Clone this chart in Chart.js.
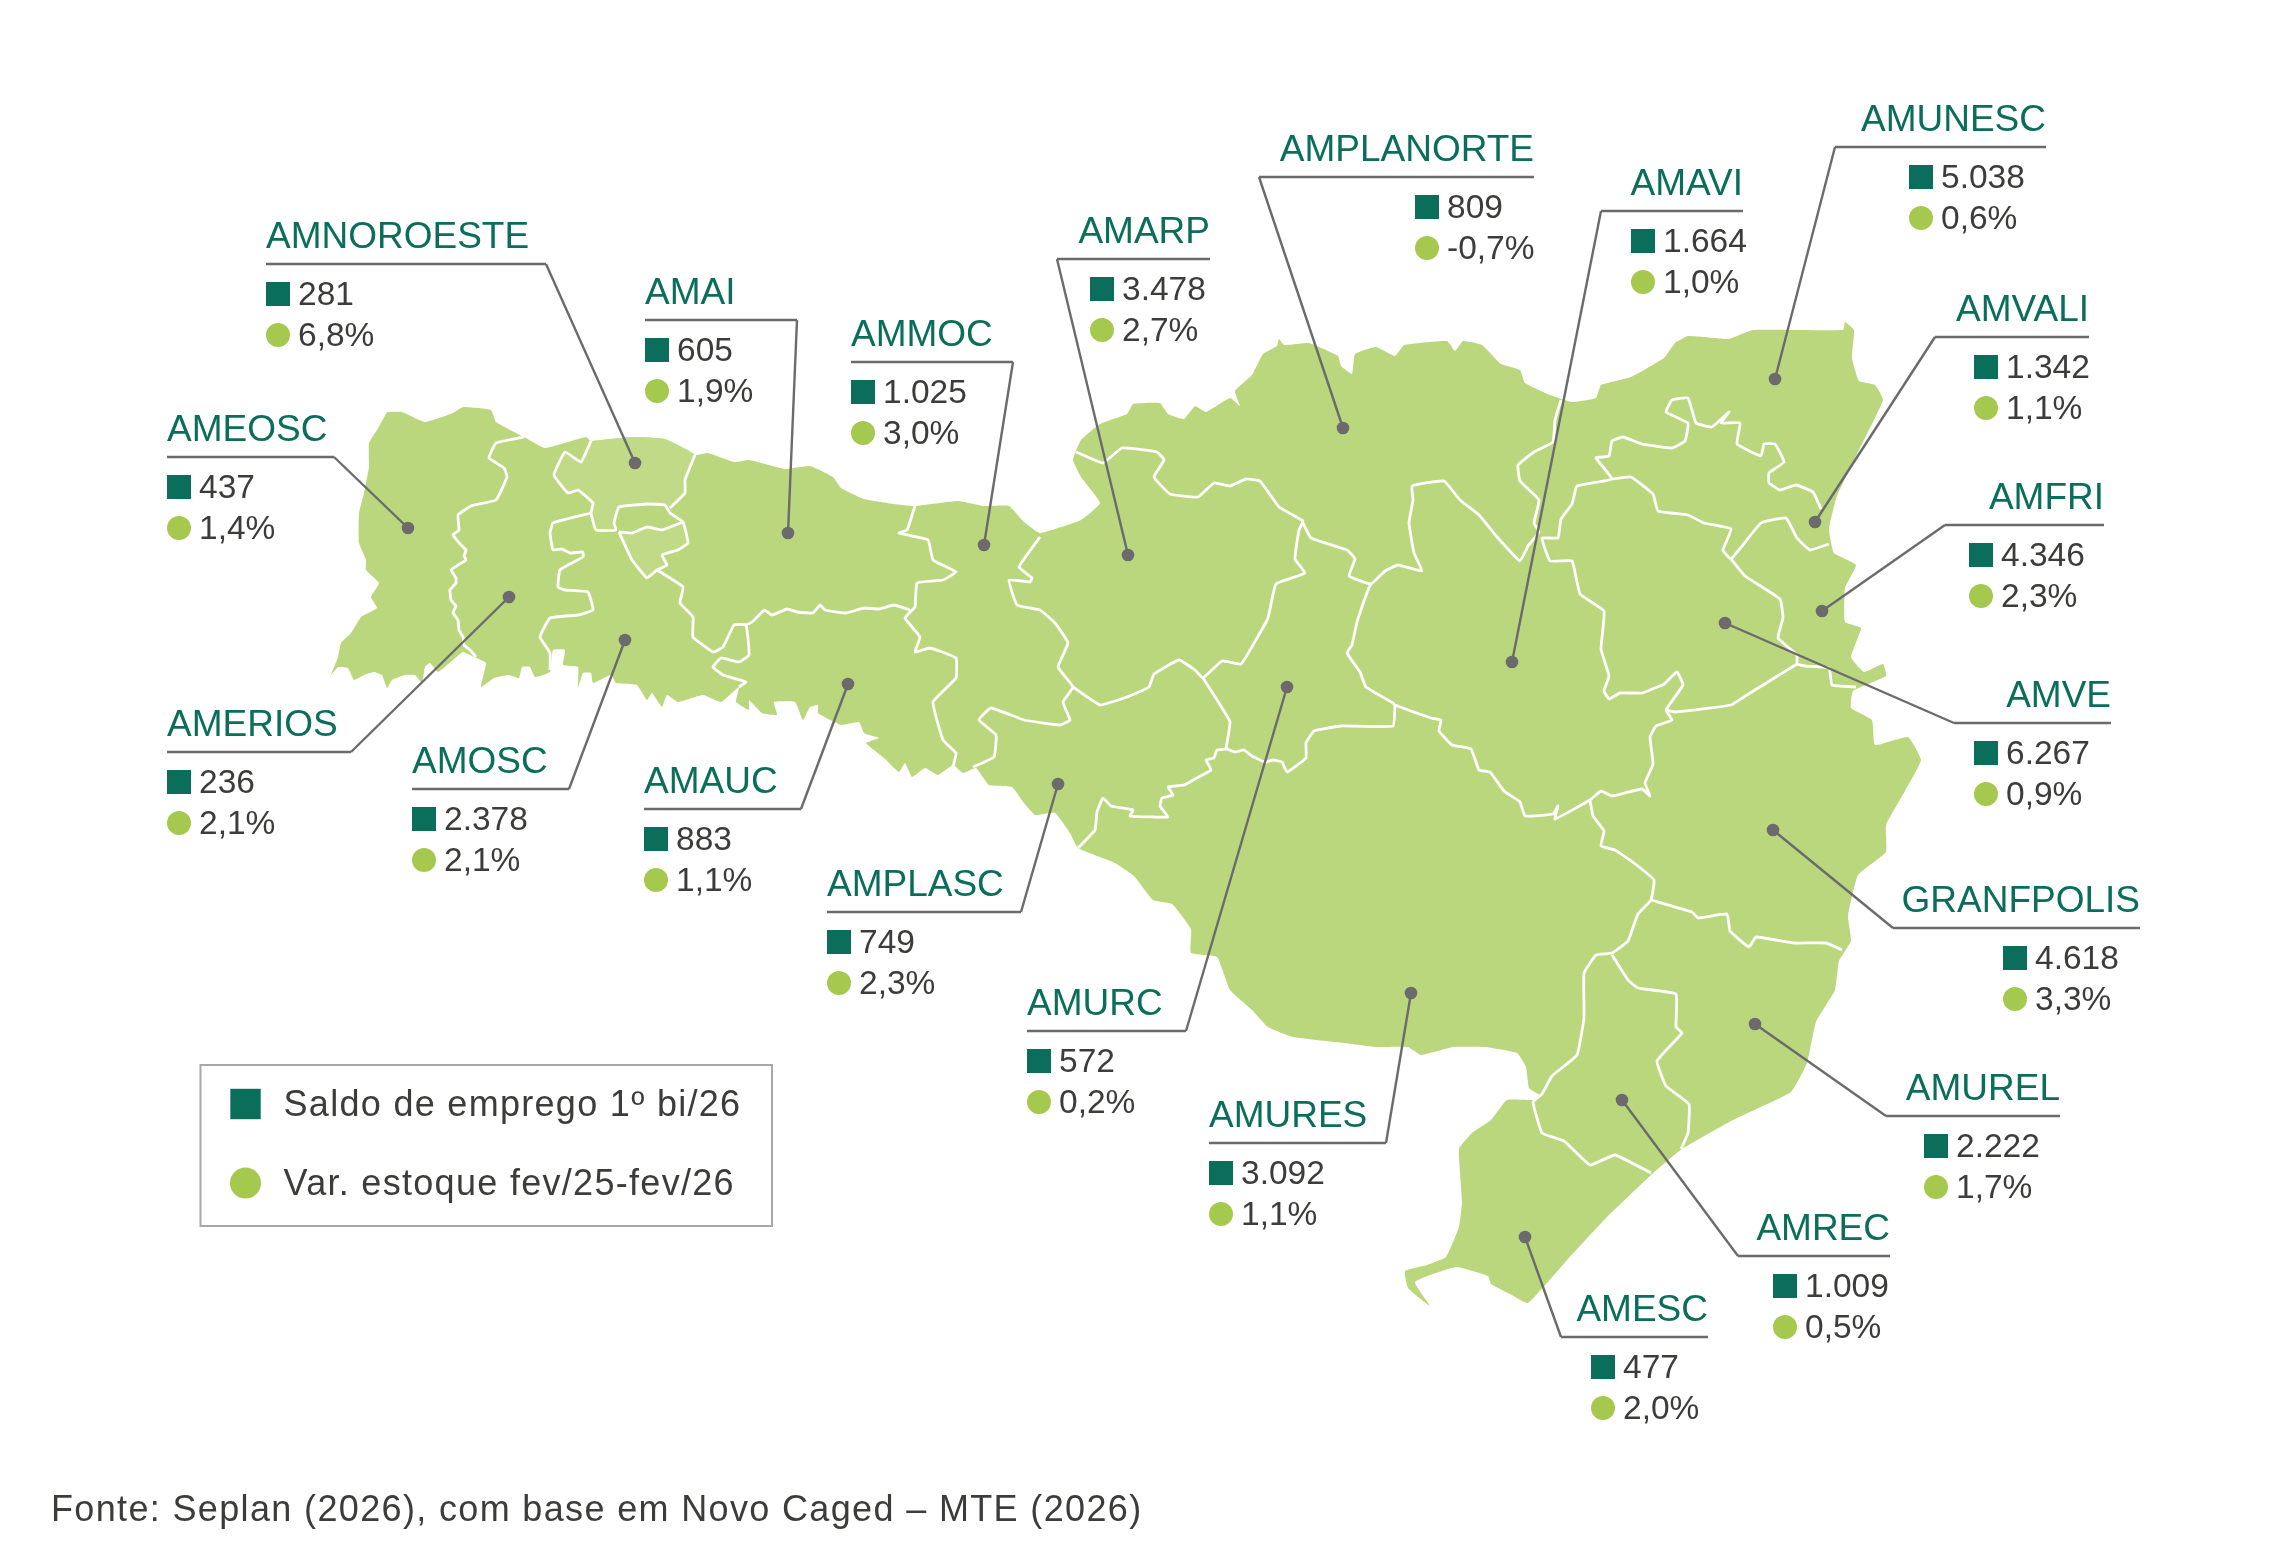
<!DOCTYPE html>
<html lang="pt-BR"><head><meta charset="utf-8">
<style>html,body{margin:0;padding:0;background:#fff}canvas{display:block}</style>
<script src="https://cdn.jsdelivr.net/npm/chart.js@4/dist/chart.umd.min.js"></script>
</head><body><canvas id="c" width="2280" height="1568"></canvas>
<script>
const regionNames=["AMNOROESTE","AMEOSC","AMERIOS","AMOSC","AMAI","AMMOC","AMAUC","AMPLASC","AMARP","AMURC","AMURES","AMPLANORTE","AMAVI","AMUNESC","AMVALI","AMFRI","AMVE","GRANFPOLIS","AMUREL","AMREC","AMESC"];
const saldoEmprego=[281,437,236,2378,605,1025,883,749,3478,572,3092,809,1664,5038,1342,4346,6267,4618,2222,1009,477];
const varEstoque=[6.8,1.4,2.1,2.1,1.9,3.0,1.1,2.3,2.7,0.2,1.1,-0.7,1.0,0.6,1.1,2.3,0.9,3.3,1.7,0.5,2.0];
const legendLabels=["Saldo de emprego 1º bi/26","Var. estoque fev/25-fev/26"];
const sourceNote="Fonte: Seplan (2026), com base em Novo Caged – MTE (2026)";

// label layout, in the chart's 2280x1568 coordinate system
const dotX=[635,408,509,625,788,984,848,1058,1128,1287,1411,1343,1512,1775,1815,1822,1725,1773,1755,1622,1525];
const dotY=[463,528,597,640,533,545,684,784,555,687,993,428,662,379,522,611,623,830,1024,1100,1237];
const ruleY=[264,457,752,789,320,362,809,912,259,1031,1143,177,211,147,337,525,723,928,1116,1256,1337];
const ruleX0=[266,167,167,412,645,851,644,827,1057,1027,1209,1259,1601,1835,1935,1945,1954,1893,1886,1738,1561];
const ruleX1=[546,334,351,569,797,1013,801,1021,1210,1186,1386,1534,1743,2046,2089,2104,2111,2140,2060,1890,1708];
const rightLabel=[0,0,0,0,0,0,0,0,1,0,0,1,1,1,1,1,1,1,1,1,1];
const markerX=[266,167,167,412,645,851,644,827,1090,1027,1209,1415,1631,1909,1974,1969,1974,2003,1924,1773,1591];

const stateOutline=[[387,412],[402,412],[425,422],[453,413],[463,407],[491,410],[496,422],[524,437],[545,448],[586,437],[591,441],[632,437],[665,439],[695,455],[708,453],[734,462],[749,460],[785,469],[810,466],[833,477],[841,488],[864,499],[894,504],[915,506],[958,501],[984,506],[1009,506],[1024,522],[1040,533],[1081,520],[1100,503],[1081,477],[1073,460],[1081,440],[1100,424],[1127,414],[1133,404],[1160,403],[1168,414],[1184,419],[1195,406],[1206,412],[1230,398],[1240,406],[1235,391],[1252,375],[1263,354],[1277,346],[1279,339],[1284,345],[1309,343],[1338,356],[1341,366],[1352,374],[1355,354],[1376,347],[1395,356],[1404,345],[1447,341],[1455,351],[1463,341],[1482,345],[1501,364],[1520,370],[1525,383],[1550,395],[1572,402],[1596,398],[1601,385],[1631,377],[1664,358],[1675,343],[1688,336],[1715,338],[1729,339],[1753,330],[1843,330],[1845,322],[1854,330],[1852,358],[1859,381],[1875,385],[1883,400],[1859,450],[1837,496],[1829,529],[1834,553],[1856,565],[1845,588],[1845,622],[1861,628],[1851,657],[1864,672],[1883,664],[1886,676],[1853,691],[1851,708],[1872,720],[1875,745],[1908,737],[1921,760],[1905,791],[1886,825],[1886,852],[1858,875],[1848,916],[1851,941],[1839,961],[1835,990],[1816,1022],[1807,1063],[1791,1092],[1733,1120],[1682,1149],[1651,1175],[1606,1218],[1568,1259],[1528,1303],[1510,1294],[1491,1284],[1488,1276],[1456,1267],[1415,1282],[1430,1306],[1408,1288],[1405,1271],[1427,1265],[1446,1257],[1459,1227],[1462,1202],[1459,1149],[1472,1133],[1491,1120],[1507,1100],[1533,1100],[1541,1096],[1529,1088],[1526,1067],[1517,1053],[1485,1047],[1453,1047],[1421,1055],[1408,1047],[1376,1047],[1344,1043],[1293,1037],[1268,1027],[1252,1010],[1230,990],[1217,957],[1191,953],[1191,929],[1172,904],[1153,900],[1134,876],[1115,863],[1078,848],[1070,833],[1055,813],[1035,815],[1024,803],[1012,787],[989,785],[976,768],[963,773],[953,765],[938,775],[925,768],[912,777],[905,763],[899,772],[884,758],[866,743],[879,738],[864,733],[859,722],[841,725],[818,713],[818,705],[810,707],[803,720],[795,702],[774,702],[777,715],[762,713],[749,700],[749,710],[736,702],[739,687],[721,702],[703,695],[678,702],[667,695],[662,707],[652,693],[647,700],[637,685],[616,683],[611,675],[593,683],[591,673],[583,673],[578,688],[578,667],[563,665],[565,650],[553,650],[550,672],[535,677],[530,667],[522,667],[519,678],[509,675],[494,678],[481,687],[486,663],[476,658],[463,652],[453,660],[438,672],[430,663],[425,667],[422,683],[415,675],[405,675],[392,680],[387,688],[382,675],[374,672],[364,675],[354,680],[348,668],[338,667],[331,675],[338,657],[341,643],[351,633],[361,617],[377,608],[371,597],[379,583],[366,570],[366,560],[359,543],[359,513],[364,493],[369,467],[369,443],[377,430]];
const amnoroesteNorth=[[591,441],[632,437],[665,439],[695,455],[685,480],[685,493],[670,508],[665,505],[647,504],[619,507],[614,523],[616,530],[596,530],[591,513],[593,503],[578,490],[568,493],[554,475],[565,452],[581,462]];
const amnoroesteSouth=[[619,532],[632,533],[647,527],[662,530],[683,522],[688,543],[678,550],[662,555],[667,565],[657,570],[647,578],[632,560]];

const borderLines=[
 [[524,437],[496,443],[489,458],[504,468],[507,477],[496,500],[471,506],[458,515],[459,530],[453,535],[461,545],[466,550],[464,556],[466,560],[458,565],[451,570],[456,578],[456,583],[450,590],[451,600],[456,606],[453,613],[458,620],[459,630],[463,637],[464,645],[470,650],[476,657]],
 [[591,513],[553,523],[550,533],[553,550],[562,549],[570,553],[583,552],[583,557],[560,570],[558,587],[565,590],[588,592],[593,610],[578,615],[550,618],[540,637],[550,653],[550,670]],
 [[591,441],[581,462],[565,452],[554,475],[568,493],[578,490],[593,503],[591,513],[596,530],[616,530],[614,523],[619,507],[647,504],[665,505],[670,513],[683,522],[688,543],[678,550],[662,555],[667,565],[657,570],[647,578],[632,560],[619,532]],
 [[695,455],[685,480],[685,493],[670,508]],
 [[619,532],[632,533],[647,527],[662,530],[683,522]],
 [[657,570],[683,587],[680,603],[693,617],[693,637],[713,652],[723,647],[734,625],[746,625],[749,655],[739,662],[721,658],[713,667],[723,675],[746,682],[739,687]],
 [[746,625],[752,622],[762,612],[765,610],[772,615],[787,609],[797,612],[813,613],[820,605],[825,610],[846,613],[864,608],[879,609],[894,605],[910,610]],
 [[915,506],[907,530],[899,533],[928,540],[933,560],[956,572],[943,580],[917,583],[915,607],[905,618],[920,637],[915,652],[930,648],[956,658],[956,678],[933,702],[943,740],[956,753],[953,767]],
 [[1040,537],[1019,567],[1032,578],[1030,582],[1009,580],[1017,605],[1040,610],[1055,623],[1068,643],[1058,667],[1073,687],[1063,702],[1070,720],[1060,725],[1024,720],[991,708],[979,720],[996,735],[994,757],[973,767]],
 [[1073,687],[1100,705],[1127,697],[1149,687],[1154,674],[1179,660],[1195,670],[1203,678],[1222,661],[1241,664],[1257,638],[1268,618],[1276,584],[1305,573],[1295,559],[1299,530],[1303,521],[1279,507],[1260,481],[1246,479],[1230,486],[1214,483],[1198,497],[1170,494],[1154,477],[1164,460],[1157,452],[1122,448],[1103,463],[1076,452]],
 [[1303,523],[1311,538],[1347,550],[1355,559],[1349,576],[1371,584],[1385,571],[1398,565],[1422,571],[1414,553],[1409,523],[1413,500],[1412,486],[1444,481],[1460,500],[1479,515],[1498,538],[1520,561],[1528,546],[1539,532],[1534,523],[1539,500],[1520,481],[1518,465],[1534,452],[1553,442],[1555,420],[1561,400]],
 [[1371,584],[1368,590],[1357,622],[1352,645],[1347,653],[1360,672],[1366,687],[1393,703],[1395,705],[1431,718],[1441,720],[1439,731],[1452,745],[1471,749],[1479,770],[1490,772],[1504,791],[1520,802],[1525,816],[1553,814],[1558,806],[1555,819],[1590,800],[1601,791],[1612,796],[1642,789],[1650,796],[1645,783],[1653,764],[1650,737],[1656,726],[1672,720],[1666,710],[1683,685],[1677,672],[1664,684],[1642,693],[1620,693],[1609,699],[1604,691],[1609,676],[1601,649],[1604,611],[1580,594],[1572,561],[1550,561],[1542,538],[1558,538],[1561,519],[1572,504],[1577,486],[1612,479],[1596,458],[1609,456],[1612,441],[1623,437],[1642,444],[1672,448],[1685,441],[1688,423],[1666,412],[1672,400],[1688,398],[1696,423],[1712,427],[1729,412],[1721,423],[1740,423],[1737,444],[1761,456],[1764,444],[1775,444],[1784,462],[1769,473],[1769,483],[1780,490],[1796,485],[1813,492],[1821,509]],
 [[1395,705],[1393,726],[1341,726],[1314,731],[1306,743],[1306,758],[1287,772],[1282,762],[1273,760],[1265,762],[1252,756],[1244,750],[1235,752],[1227,749],[1217,750],[1214,758],[1206,760],[1211,770],[1195,779],[1184,785],[1168,787],[1173,795],[1162,798],[1160,806],[1168,817],[1154,817],[1130,816],[1133,810],[1111,806],[1103,798],[1097,812],[1095,830],[1078,848]],
 [[1203,678],[1219,703],[1230,722],[1226,749]],
 [[1612,479],[1631,477],[1653,494],[1658,511],[1688,515],[1704,523],[1731,529],[1723,550],[1731,559],[1761,523],[1786,518],[1797,538],[1810,550],[1829,544]],
 [[1731,559],[1745,576],[1780,599],[1783,618],[1778,638],[1797,655],[1797,664],[1805,666],[1829,668],[1832,685],[1856,687]],
 [[1797,664],[1750,693],[1731,705],[1675,712],[1666,710]],
 [[1590,800],[1593,816],[1604,831],[1601,846],[1615,850],[1634,863],[1654,880],[1651,900],[1638,914],[1628,941],[1612,953],[1596,955],[1584,973],[1584,1018],[1577,1055],[1552,1076],[1542,1094],[1533,1102],[1542,1133],[1564,1141],[1590,1165],[1615,1155],[1651,1173]],
 [[1651,900],[1692,912],[1698,918],[1727,914],[1730,931],[1749,947],[1756,937],[1794,943],[1826,943],[1842,950]],
 [[1612,955],[1628,980],[1638,988],[1676,994],[1676,1027],[1682,1033],[1657,1061],[1666,1086],[1689,1104],[1688,1133],[1681,1149]]
];

const pts=a=>a.map(p=>({x:p[0],y:p[1]}));
const GRAY='#6b6a6c',DARK='#0a6e5a',LIME='#a4c94e',TEXT='#3c3c3b';
const squareRow=i=>ruleY[i]+30, circleRow=i=>ruleY[i]+71;
const datasets=[];
const shape=(d,color,order)=>datasets.push({data:pts(d),showLine:true,fill:'shape',backgroundColor:color,borderWidth:0,pointRadius:0,tension:0.12,order});
shape(stateOutline,'#bad77e',10);
shape(amnoroesteNorth,'#c1da88',9);
shape(amnoroesteSouth,'#c1da88',9);
borderLines.forEach(b=>datasets.push({data:pts(b),showLine:true,borderColor:'#fff',borderWidth:2.8,pointRadius:0,tension:0.1,fill:false,order:8}));
regionNames.forEach((n,i)=>{
  datasets.push({label:n,data:[{x:ruleX0[i]+0,y:ruleY[i]},{x:ruleX1[i],y:ruleY[i]}],showLine:true,borderColor:GRAY,borderWidth:2.4,pointRadius:0,fill:false,order:5});
  const ex=rightLabel[i]?ruleX0[i]:ruleX1[i];
  datasets.push({data:[{x:ex,y:ruleY[i]},{x:dotX[i],y:dotY[i]}],showLine:true,borderColor:GRAY,borderWidth:2.4,pointRadius:0,fill:false,order:5});
});
datasets.push({data:dotX.map((x,i)=>({x,y:dotY[i]})),showLine:false,pointStyle:'circle',pointRadius:6.3,backgroundColor:GRAY,borderWidth:0,order:1});
datasets.push({data:markerX.map((x,i)=>({x:x+12,y:squareRow(i)})),showLine:false,pointStyle:'rect',pointRadius:17,backgroundColor:DARK,borderWidth:0,order:1});
datasets.push({data:markerX.map((x,i)=>({x:x+12,y:circleRow(i)})),showLine:false,pointStyle:'circle',pointRadius:12,backgroundColor:LIME,borderWidth:0,order:1});
datasets.push({data:[{x:245.5,y:1104}],showLine:false,pointStyle:'rect',pointRadius:21.5,backgroundColor:DARK,borderWidth:0,order:1});
datasets.push({data:[{x:245.5,y:1183}],showLine:false,pointStyle:'circle',pointRadius:15.5,backgroundColor:LIME,borderWidth:0,order:1});

const fmtInt=v=>String(v).replace(/\B(?=(\d{3})+$)/g,'.');
const fmtPct=v=>v.toFixed(1).replace('.',',')+'%';
const textPlugin={id:'labels',afterDatasetsDraw(chart){
  const c=chart.ctx,X=v=>chart.scales.x.getPixelForValue(v),Y=v=>chart.scales.y.getPixelForValue(v);
  const put=(s,x,y,font,color,align,ls)=>{c.font=font;c.fillStyle=color;c.textAlign=align||'left';c.textBaseline='alphabetic';c.letterSpacing=ls||'0px';c.fillText(s,X(x),Y(y));};
  c.save();
  const F='"Liberation Sans",Arial,sans-serif';
  regionNames.forEach((n,i)=>{
    if(rightLabel[i]) put(n,ruleX1[i],ruleY[i]-16,'37px '+F,DARK,'right');
    else put(n,ruleX0[i],ruleY[i]-16,'37px '+F,DARK,'left');
    put(fmtInt(saldoEmprego[i]),markerX[i]+32,ruleY[i]+41,'33.5px '+F,TEXT,'left');
    put(fmtPct(varEstoque[i]),markerX[i]+32,ruleY[i]+82,'33.5px '+F,TEXT,'left');
  });
  c.strokeStyle='#a8a8a8';c.lineWidth=2;
  c.strokeRect(X(200.5),Y(1065),X(772)-X(200.5),Y(1226)-Y(1065));
  put(legendLabels[0],283.5,1116,'36px '+F,TEXT,'left','1.3px');
  put(legendLabels[1],283.5,1195,'36px '+F,TEXT,'left','1.3px');
  put(sourceNote,51,1521,'36px '+F,TEXT,'left','1.35px');
  c.restore();
}};
new Chart(document.getElementById('c'),{type:'scatter',data:{datasets},plugins:[textPlugin],options:{
  responsive:false,animation:false,devicePixelRatio:1,layout:{padding:0,autoPadding:false},
  plugins:{legend:{display:false},tooltip:{enabled:false}},
  scales:{x:{type:'linear',min:0,max:2280,display:false},y:{type:'linear',min:0,max:1568,reverse:true,display:false}}
}});
</script></body></html>
